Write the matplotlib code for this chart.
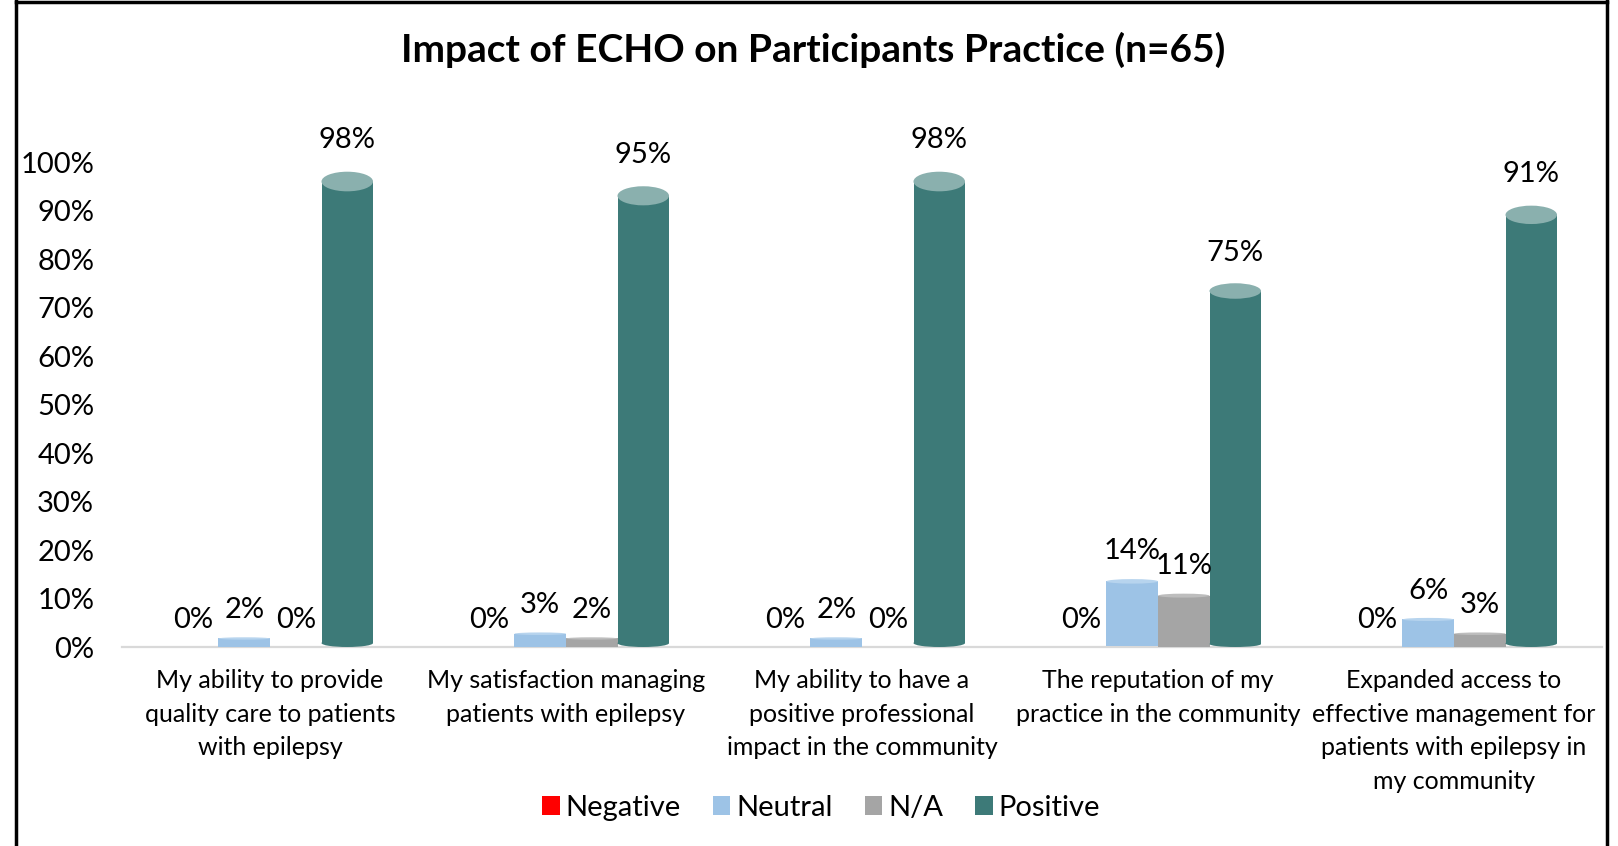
import matplotlib
matplotlib.use("Agg")
import matplotlib.pyplot as plt
from matplotlib.patches import Ellipse, Patch
from matplotlib.lines import Line2D

plt.rcParams['font.family'] = ['Lato', 'DejaVu Sans']

# ---------------- data ----------------
categories = [
    "My ability to provide\nquality care to patients\nwith epilepsy",
    "My satisfaction managing\npatients with epilepsy",
    "My ability to have a\npositive professional\nimpact in the community",
    "The reputation of my\npractice in the community",
    "Expanded access to\neffective management for\npatients with epilepsy in\nmy community",
]
series_names = ["Negative", "Neutral", "N/A", "Positive"]
negative = [0, 0, 0, 0, 0]
neutral = [2, 3, 2, 14, 6]
na = [0, 2, 0, 11, 3]
positive = [98, 95, 98, 75, 91]
yticks = [0, 10, 20, 30, 40, 50, 60, 70, 80, 90, 100]
ytick_labels = [f"{v}%" for v in yticks]
title = "Impact of ECHO on Participants Practice (n=65)"

# ---------------- styles ----------------
body_colors = ["#FF0000", "#9DC3E6", "#A5A5A5", "#3D7A78"]
top_colors = ["#FF6666", "#B7D4EE", "#BDBDBD", "#8AB0AE"]
show_cyl = [False, True, True, True]

W, H, DPI = 1618, 846, 100
fig = plt.figure(figsize=(W / DPI, H / DPI), dpi=DPI)
ax = fig.add_axes([122 / W, 1 - 647 / H, (1602 - 122) / W, (647 - 162) / H])
ax.set_xlim(-0.5, 4.5)
ax.set_ylim(0, 100)
px_per_unit = (647 - 162) / 100.0

bw = 0.174
offsets = [-1.5 * bw, -0.5 * bw, 0.5 * bw, 1.5 * bw]
all_series = [negative, neutral, na, positive]

for s, vals in enumerate(all_series):
    xs = [i + offsets[s] for i in range(len(vals))]
    for x, v in zip(xs, vals):
        ht = 2 + 0.18 * v           # top ellipse height (px)
        hb = 0.08 * v               # bottom ellipse height (px)
        if v > 0:
            b = hb / 2 / px_per_unit
            t = v - ht / 2 / px_per_unit
            ax.bar(x, t - b, bottom=b, width=bw, color=body_colors[s],
                   linewidth=0, zorder=3)
            if hb > 1.5:
                ax.add_patch(Ellipse((x, b), bw, hb / px_per_unit,
                                     facecolor=body_colors[s], linewidth=0,
                                     zorder=3, clip_on=False))
            if show_cyl[s]:
                ax.add_patch(Ellipse((x, t), bw, ht / px_per_unit,
                                     facecolor=top_colors[s], linewidth=0,
                                     zorder=4, clip_on=False))
        else:
            ax.bar(x, v, width=bw, color=body_colors[s], linewidth=0, zorder=3)
        ax.annotate(f"{v}%", (x, v), xytext=(0, 27 + 0.05 * v),
                    textcoords="offset pixels", ha="center", va="center",
                    fontsize=21, color="black", zorder=5,
                    annotation_clip=False)

for sp in ["left", "right", "top"]:
    ax.spines[sp].set_visible(False)
ax.spines["bottom"].set_color("#D9D9D9")
ax.spines["bottom"].set_linewidth(1.6)
ax.spines["bottom"].set_zorder(2)

ax.set_yticks(yticks)
ax.set_yticklabels(ytick_labels, fontsize=21)
ax.tick_params(axis="y", length=0, pad=20)
ax.set_xticks(range(len(categories)))
ax.set_xticklabels(categories, fontsize=18, linespacing=1.55)
ax.tick_params(axis="x", length=0, pad=16)

fig.text(813 / W, 1 - 50 / H, title, ha="center", va="center",
         fontsize=28, fontweight="bold")

handles = [Patch(facecolor=c, edgecolor="none") for c in body_colors]
fig.legend(handles, series_names, loc="center", ncol=4, frameon=False,
           bbox_to_anchor=(821 / W, 1 - 808 / H), fontsize=21,
           handlelength=0.6, handleheight=0.6, handletextpad=0.2,
           columnspacing=1.1)

# outer border
for xs_, ys_ in [([16 / W, 16 / W], [0, 1]),
                 ([16 / W, 1607 / W], [1 - 2 / H, 1 - 2 / H]),
                 ([1607 / W, 1607 / W], [0, 1])]:
    fig.add_artist(Line2D(xs_, ys_, transform=fig.transFigure,
                          color="black", linewidth=2.5))

fig.savefig("out.png", dpi=DPI, facecolor="white")
